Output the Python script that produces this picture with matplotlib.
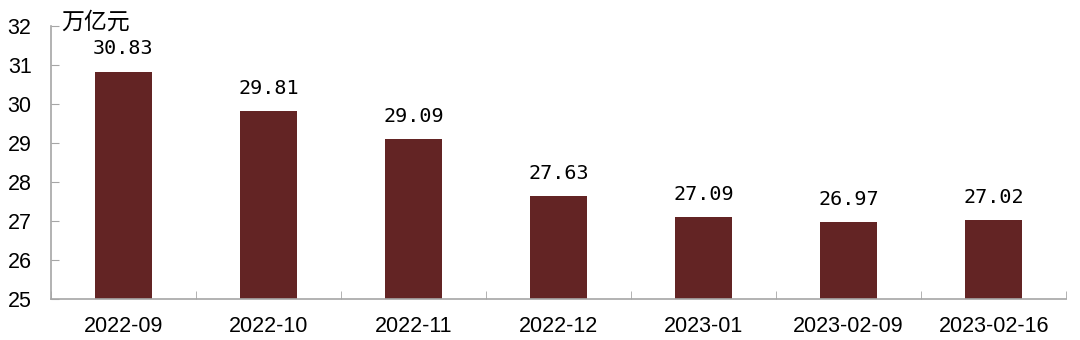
import matplotlib
matplotlib.use("Agg")
import matplotlib.pyplot as plt
import numpy as np

plt.rcParams['font.family'] = ['Noto Sans CJK SC', 'DejaVu Sans']

# 月份/日期与余额(万亿元)
dates = ["2022-09", "2022-10", "2022-11", "2022-12", "2023-01", "2023-02-09", "2023-02-16"]
values = [30.83, 29.81, 29.09, 27.63, 27.09, 26.97, 27.02]

bar_color = "#632424"
spine_color = "#a6a6a6"
mono = ['DejaVu Sans Mono']
sans = ['Liberation Sans']

fig = plt.figure(figsize=(10.8, 3.4), dpi=100)
ax = fig.add_axes([0.0472, 0.1206, 0.94, 0.803])

x = np.arange(len(dates))
ax.bar(x, values, width=0.39, bottom=0, color=bar_color, zorder=2)

for xi, v in zip(x, values):
    ax.annotate("{:.2f}".format(v), (xi, v), xytext=(0, 12.5), textcoords="offset points",
                ha="center", va="baseline", fontsize=14.5, family=mono)

ax.set_ylim(25, 32)
ax.set_xlim(-0.5, len(dates) - 0.5)
ax.set_yticks(range(25, 33))
ax.set_yticklabels([str(t) for t in range(25, 33)], family=sans, fontsize=15.5)
ax.tick_params(axis="y", direction="in", length=6, color=spine_color, pad=14)

# 类别刻度放在柱子之间
ax.set_xticks(x)
ax.set_xticklabels(dates, fontsize=15.5, family=sans)
ax.tick_params(axis="x", length=0, pad=12)
ax.set_xticks(np.arange(-0.5, len(dates)), minor=True)
ax.tick_params(axis="x", which="minor", direction="in", length=6, color=spine_color)

for s in ["top", "right"]:
    ax.spines[s].set_visible(False)
for s in ["left", "bottom"]:
    ax.spines[s].set_color(spine_color)
    ax.spines[s].set_linewidth(1.2)

fig.text(0.057, 0.968, "万亿元", fontsize=16.5, ha="left", va="top")

fig.savefig("out.png", dpi=100)
